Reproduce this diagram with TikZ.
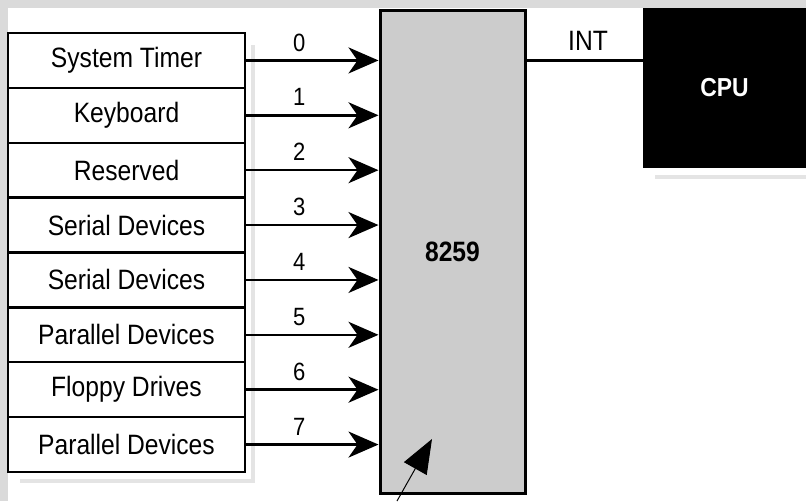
\documentclass[tikz,border=0pt]{standalone}
\usepackage{fontspec}
\setmainfont{Liberation Sans}[FakeStretch=0.88]
\usetikzlibrary{arrows.meta,calc}
\definecolor{bordergray}{HTML}{DADADA}
\definecolor{chipgray}{HTML}{CCCCCC}
\definecolor{shadowgray}{HTML}{E4E4E4}
\begin{document}
\begin{tikzpicture}[x=1pt,y=-1pt,
  devbox/.style={draw=black,line width=2.4pt,fill=white,minimum width=237pt,minimum height=54.9pt,inner sep=0pt,font=\fontsize{28}{32}\selectfont},
  numlabel/.style={font=\fontsize{25}{28}\selectfont,inner sep=0pt},
  irq/.style={line width=2.6pt,-{Stealth[length=30pt,width=26pt,inset=9pt]}},
  shadowline/.style={draw=shadowgray,line width=4pt}
]
\useasboundingbox (0,0) rectangle (806,501);
\fill[bordergray] (0,0) rectangle (806,501);
\fill[white] (8,8) rectangle (806,501);
% shadows
\draw[shadowline] (253,45) -- (253,481) -- (20,481);
\draw[shadowline] (655,177) -- (806,177);
% chip and cpu
\node[draw=black,line width=3pt,fill=chipgray,minimum width=145pt,minimum height=483pt,inner sep=0pt,font=\fontsize{28}{32}\selectfont\bfseries] (chip) at (452.5,251.5) {8259};
\node[fill=black,text=white,minimum width=163pt,minimum height=160pt,inner sep=0pt,font=\fontsize{26}{30}\selectfont\bfseries] (cpu) at (724.5,88) {CPU};
% devices
\node[devbox] (d0) at (126.5,60.44) {System Timer};
\node[devbox] (d1) at (126.5,115.31) {Keyboard};
\node[devbox] (d2) at (126.5,170.19) {Reserved};
\node[devbox] (d3) at (126.5,225.06) {Serial Devices};
\node[devbox] (d4) at (126.5,279.94) {Serial Devices};
\node[devbox] (d5) at (126.5,334.81) {Parallel Devices};
\node[devbox] (d6) at (126.5,389.69) {Floppy Drives};
\node[devbox] (d7) at (126.5,444.56) {Parallel Devices};
\foreach \i in {0,...,7}{
  \draw[irq] (d\i.east) -- (d\i.east -| chip.west);
  \node[numlabel] (n\i) at ($(d\i.east)+(53,-18)$) {\i};
}
% INT line
\draw[line width=2.2pt] (cpu.west |- d0.east) coordinate (intend) -- (intend -| chip.east);
\node[font=\fontsize{28}{32}\selectfont,inner sep=0pt] (intlabel) at (588,41) {INT};
% pointer arrow
\coordinate (ptail) at (397,501);
\coordinate (ptip) at (432,439);
\draw[line width=1pt,-{Triangle[length=34pt,width=26pt]}] (ptail) -- (ptip);
\end{tikzpicture}
\end{document}
